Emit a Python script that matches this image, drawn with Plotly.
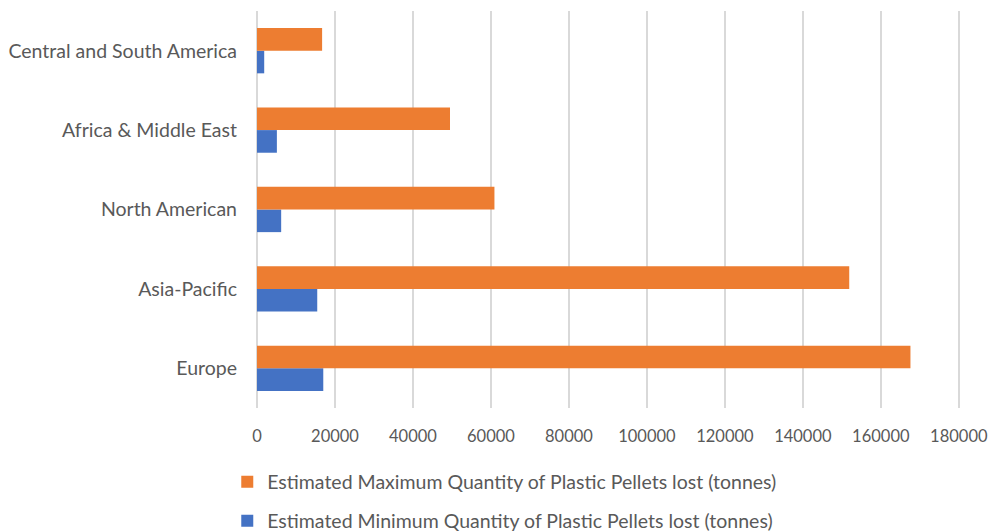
import plotly.graph_objects as go

categories = ["Europe", "Asia-Pacific", "North American", "Africa & Middle East", "Central and South America"]
min_vals = [17000, 15450, 6200, 5100, 1850]
max_vals = [167600, 151900, 60900, 49500, 16700]
x_ticks = [0, 20000, 40000, 60000, 80000, 100000, 120000, 140000, 160000, 180000]

FONT = "Lato, 'Open Sans', sans-serif"
GREY = "#595959"

fig = go.Figure()
fig.add_trace(go.Bar(
    y=categories, x=min_vals, orientation="h",
    name="Estimated Minimum Quantity of Plastic Pellets lost (tonnes)",
    marker=dict(color="#4472C4", line=dict(width=0)),
    legend="legend2",
))
fig.add_trace(go.Bar(
    y=categories, x=max_vals, orientation="h",
    name="Estimated Maximum Quantity of Plastic Pellets lost (tonnes)",
    marker=dict(color="#ED7D31", line=dict(width=0)),
    legend="legend",
))

leg_common = dict(
    orientation="v", x=-0.042, xanchor="left", yanchor="middle",
    font=dict(size=19.5, color=GREY), bgcolor="rgba(0,0,0,0)",
)

fig.update_layout(
    width=991, height=531,
    margin=dict(l=257, r=26, t=11, b=123, autoexpand=False),
    barmode="group", bargap=0.43, bargroupgap=0,
    plot_bgcolor="white", paper_bgcolor="white",
    font=dict(family=FONT, color=GREY, size=19),
    showlegend=True,
    legend=dict(y=-0.1864, **leg_common),
    legend2=dict(y=-0.2846, **leg_common),
    xaxis=dict(
        range=[0, 181590], tickvals=x_ticks, ticktext=[str(v) for v in x_ticks],
        showgrid=True, gridcolor="#D9D9D9", gridwidth=1.5,
        zeroline=True, zerolinecolor="#D9D9D9", zerolinewidth=1.5,
        showline=False, ticks="", ticklabelstandoff=16,
        tickfont=dict(size=16.5, color=GREY),
        automargin=False, fixedrange=True,
    ),
    yaxis=dict(
        showgrid=False, zeroline=False, showline=False, ticks="",
        ticklabelstandoff=19, tickfont=dict(size=19.5, color=GREY),
        automargin=False, fixedrange=True,
    ),
)

fig.write_html("out.html")
